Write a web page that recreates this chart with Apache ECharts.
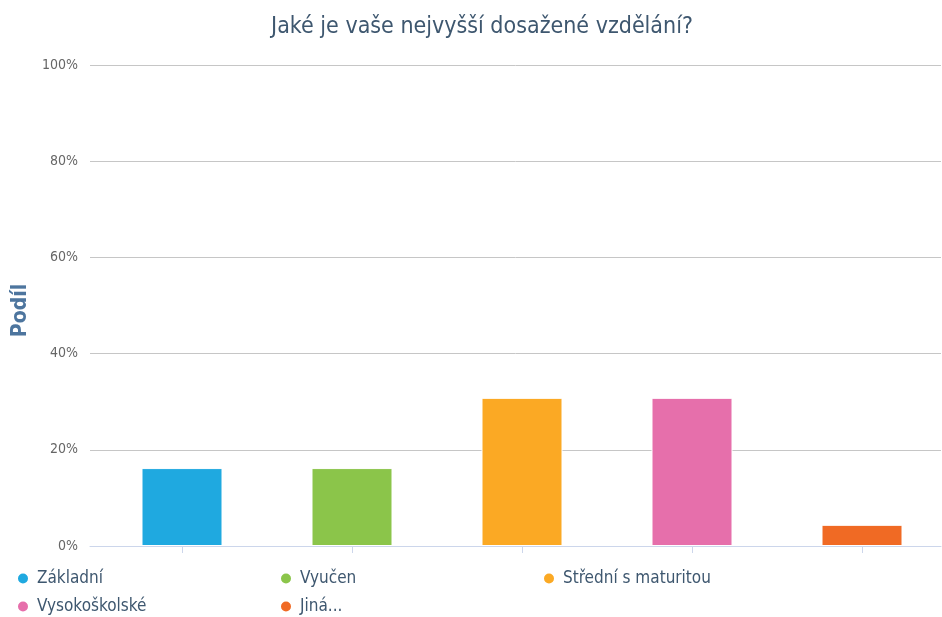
<!DOCTYPE html>
<html>
<head>
<meta charset="utf-8">
<script src="https://cdn.jsdelivr.net/npm/echarts@6/dist/echarts.min.js"></script>
<style>
  html, body { margin: 0; padding: 0; background: #fff; }
  #chart { width: 942px; height: 617px; }
</style>
</head>
<body>
<div id="chart"></div>
<script>
// Education survey: share of respondents by highest completed education
const titleText = 'Jaké je vaše nejvyšší dosažené vzdělání?';
const axisTitle = 'Podíl';
const categories = ['Základní', 'Vyučen', 'Střední s maturitou', 'Vysokoškolské', 'Jiná...'];
const shares = [16.2, 16.2, 30.8, 30.8, 4.4];
const colors = ['#1fa9e0', '#8bc54a', '#fba924', '#e66fab', '#f06a24'];
const yTicks = [0, 20, 40, 60, 80, 100];

const font = "'DejaVu Sans Condensed', 'DejaVu Sans', sans-serif";

// One series per category so each gets its own legend entry; stacked so bars stay centred
const series = categories.map((name, i) => ({
  name: name,
  type: 'bar',
  stack: 'all',
  xAxisIndex: 1,
  yAxisIndex: 1,
  barWidth: 81,
  itemStyle: { color: colors[i], borderColor: '#fff', borderWidth: 1 },
  data: categories.map((_, j) => (j === i ? shares[i] : '-'))
}));

// Legend laid out as a two-row grid of entries
const legendPos = [
  { left: 11, top: 565 },
  { left: 274, top: 565 },
  { left: 537, top: 565 },
  { left: 11, top: 593 },
  { left: 274, top: 593 }
];
const legends = categories.map((name, i) => ({
  data: [name],
  left: legendPos[i].left,
  top: legendPos[i].top,
  icon: 'circle',
  itemWidth: 12,
  itemHeight: 12,
  itemGap: 0,
  selectedMode: false,
  textStyle: { color: '#3e576f', fontSize: 17, fontFamily: font, padding: [0, 0, 0, 3] }
}));

const yRange = { min: yTicks[0], max: yTicks[yTicks.length - 1], interval: yTicks[1] - yTicks[0] };

const chart = echarts.init(document.getElementById('chart'), null, { renderer: 'canvas' });
chart.setOption({
  animation: false,
  title: {
    text: titleText,
    left: 477,
    textAlign: 'center',
    top: 11,
    textStyle: { color: '#3e576f', fontSize: 23, fontWeight: 'normal', fontFamily: font }
  },
  legend: legends,
  grid: [
    { left: 90, width: 851, top: 65, height: 481, outerBoundsMode: 'none' },
    { left: 97, width: 850, top: 65, height: 481, outerBoundsMode: 'none' }
  ],
  xAxis: [
    {
      gridIndex: 0,
      type: 'category',
      data: categories,
      axisLine: { lineStyle: { color: '#ccd6eb', width: 1 } },
      axisTick: { show: false },
      axisLabel: { show: false }
    },
    {
      gridIndex: 1,
      type: 'category',
      data: categories,
      boundaryGap: true,
      axisLine: { show: false },
      axisTick: { show: true, alignWithLabel: true, length: 7, lineStyle: { color: '#ccd6eb' } },
      axisLabel: { show: false }
    }
  ],
  yAxis: [
    {
      gridIndex: 0,
      type: 'value',
      ...yRange,
      name: axisTitle,
      nameLocation: 'middle',
      nameGap: 59,
      nameRotate: 90,
      nameTextStyle: { color: '#4d759e', fontSize: 21, fontWeight: 'bold', fontFamily: font, padding: [0, 10, 0, 0] },
      axisLine: { show: false },
      axisTick: { show: false },
      axisLabel: { formatter: '{value}%', color: '#666', fontSize: 14, fontFamily: font, margin: 12 },
      splitLine: { lineStyle: { color: '#c6c6c6', width: 1 } }
    },
    {
      gridIndex: 1,
      type: 'value',
      ...yRange,
      show: false,
      splitLine: { show: false }
    }
  ],
  series: series
});
</script>
</body>
</html>
